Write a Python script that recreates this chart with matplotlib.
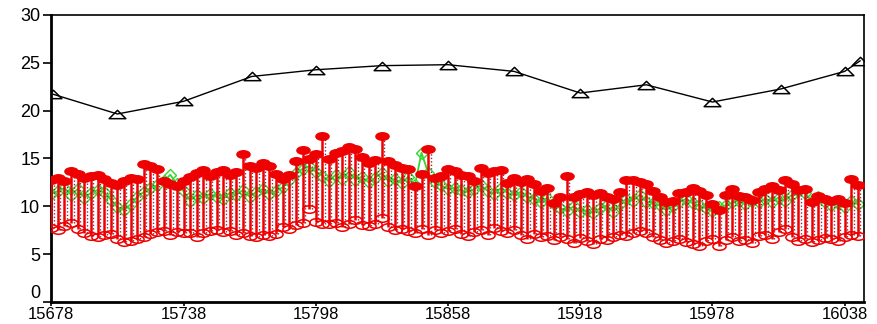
import numpy as np
import matplotlib
matplotlib.use("Agg")
import matplotlib.pyplot as plt
from matplotlib.path import Path
from matplotlib.transforms import Affine2D

# Monthly series (black triangles)
month_day = [15679, 15708, 15738, 15769, 15798, 15828, 15858, 15888,
             15918, 15948, 15978, 16009, 16038, 16045]
month_val = [21.7, 19.65, 20.97, 23.57, 24.27, 24.7, 24.8, 24.1,
             21.84, 22.7, 20.9, 22.26, 24.1, 25.2]

# Sampled series, one record every three days
day = np.arange(15678, 16045, 3)

daily_max = [
    12.8, 13.0, 12.6, 13.7, 13.4, 13.0, 13.2,
    13.3, 12.9, 12.4, 12.2, 12.6, 13.0, 12.9,
    14.4, 14.2, 13.9, 12.6, 12.3, 12.1, 12.6,
    13.1, 13.5, 13.8, 13.2, 13.6, 13.8, 13.3,
    13.6, 15.5, 14.2, 14.0, 14.5, 14.2, 13.4,
    12.9, 13.3, 14.7, 15.9, 14.9, 15.5, 17.3,
    14.9, 15.6, 15.8, 16.2, 16.0, 15.2, 14.5,
    14.8, 17.4, 14.7, 14.3, 14.0, 13.9, 12.1,
    13.4, 16.0, 13.0, 13.2, 13.9, 13.7, 13.3,
    13.2, 12.6, 14.0, 13.5, 13.7, 13.8, 12.4,
    13.0, 12.5, 12.9, 12.3, 11.6, 11.9, 10.3,
    11.0, 13.2, 11.0, 11.3, 11.5, 11.2, 11.4,
    11.0, 10.8, 11.5, 12.8, 12.7, 12.5, 12.3,
    11.6, 11.0, 10.5, 10.6, 11.4, 11.5, 11.9,
    11.6, 11.2, 10.2, 9.6, 11.2, 11.8, 11.1,
    11.0, 10.7, 11.5, 11.8, 12.1, 11.7, 12.8,
    12.3, 11.7, 11.8, 10.4, 11.1, 10.8, 10.6,
    10.8, 10.3, 12.9, 12.2,
]

daily_min = [
    7.7, 7.5, 7.9, 8.3, 7.6, 7.2, 6.9,
    6.8, 7.0, 7.1, 6.6, 6.3, 6.4, 6.6,
    6.8, 7.1, 7.3, 7.4, 7.0, 7.3, 7.2,
    7.2, 6.8, 7.2, 7.4, 7.5, 7.3, 7.4,
    7.0, 7.2, 6.9, 6.8, 7.0, 6.9, 7.1,
    7.8, 7.6, 8.0, 8.3, 9.7, 8.4, 8.2,
    8.1, 8.3, 7.8, 8.1, 8.6, 8.0, 7.9,
    8.2, 8.8, 7.8, 7.5, 7.6, 7.4, 7.2,
    7.6, 7.0, 7.5, 7.2, 7.4, 7.6, 7.1,
    6.9, 7.3, 7.5, 7.0, 7.7, 7.4, 7.2,
    7.5, 7.0, 6.6, 7.1, 6.8, 6.9, 6.5,
    6.8, 6.6, 6.2, 6.7, 6.4, 6.1, 6.6,
    6.5, 6.8, 7.0, 6.9, 7.2, 7.4, 7.2,
    6.8, 6.5, 6.2, 6.4, 6.6, 6.3, 6.1,
    5.9, 6.4, 6.6, 5.9, 6.5, 6.8, 6.4,
    6.5, 6.2, 6.9, 7.0, 6.6, 7.3, 7.6,
    6.8, 6.4, 6.6, 6.3, 6.5, 6.7, 6.6,
    6.4, 6.8, 7.0, 6.9,
]

daily_mean = [
    11.3, 11.6, 11.9, 11.2, 11.8, 10.9, 11.4,
    11.7, 11.5, 10.7, 9.9, 9.6, 10.2, 11.0,
    11.5, 11.9, 12.2, 12.6, 13.3, 12.3, 11.6,
    10.6, 11.2, 10.9, 11.3, 11.0, 10.8, 11.4,
    11.2, 11.7, 11.0, 11.5, 11.8, 11.3, 11.6,
    12.0, 12.8, 13.5, 13.9, 14.2, 13.6, 13.2,
    12.6, 13.3, 12.9, 13.6, 12.8, 13.1, 12.5,
    13.0, 13.5, 12.6, 12.9, 12.4, 13.1, 12.2,
    15.6, 13.5, 12.5, 12.2, 11.8, 11.9, 11.7,
    11.5, 11.8, 12.2, 11.6, 11.3, 11.9, 11.4,
    11.2, 11.5, 11.0, 10.8, 10.4, 10.9, 10.2,
    9.8, 9.5, 10.0, 9.4, 9.6, 9.3, 9.8,
    10.1, 9.4, 10.2, 10.8, 10.6, 11.2, 10.5,
    10.3, 10.1, 9.6, 10.0, 10.4, 10.8, 10.3,
    10.1, 9.8, 9.5, 9.9, 10.1, 10.4, 10.6,
    10.2, 10.6, 10.4, 10.8, 10.5, 10.9, 10.6,
    11.2, 11.6, 11.4, 10.6, 11.0, 10.4, 10.1,
    10.3, 9.9, 10.6, 10.2,
]

x_ticks = [15678, 15738, 15798, 15858, 15918, 15978, 16038]
y_ticks = [0, 5, 10, 15, 20, 25, 30]

# Wide marker shapes
ellipse = Path.unit_circle().transformed(Affine2D().scale(1.75, 1.0))
wide_tri = Path([(-1.0, -0.5), (1.0, -0.5), (0.0, 0.5), (-1.0, -0.5)],
                [Path.MOVETO, Path.LINETO, Path.LINETO, Path.CLOSEPOLY])

plt.rcParams["font.family"] = ["Liberation Sans", "DejaVu Sans"]

fig = plt.figure(figsize=(8.78, 3.24), dpi=100)
ax = fig.add_axes([0.0584, 0.0679, 0.9262, 0.886])

red = "#ee0000"
green = "#33d633"

# Mean line (green)
ax.plot(day, daily_mean, color=green, lw=1.3, marker="D", ms=6,
        mfc="none", mec=green, mew=1.0, zorder=2)

# Range stems: solid min-max bar plus dotted companion
ax.vlines(day, daily_min, daily_max, color=red, lw=1.8, zorder=3)
ax.vlines(np.asarray(day) + 1.1, daily_min, daily_max, color="#8a2a4a",
          lw=1.0, linestyles=(0, (1, 1.5)), zorder=3)

ax.plot(day, daily_min, ls="none", marker=ellipse, ms=9.5, mfc="none",
        mec=red, mew=1.1, zorder=4)
ax.plot(day, daily_max, ls="none", marker=ellipse, ms=9.5, mfc=red,
        mec=red, mew=1.0, zorder=5)

# Monthly line (black)
ax.plot(month_day, month_val, color="black", lw=1.0, marker=wide_tri,
        ms=12, mfc="none", mec="black", mew=1.1, zorder=6)

ax.set_xlim(15678, 16047)
ax.set_ylim(0, 30)
ax.set_xticks(x_ticks)
ax.set_yticks(y_ticks)
ax.tick_params(axis="x", direction="out", length=3, width=1.2,
               labelsize=12, pad=0.5)
ax.tick_params(axis="y", direction="out", length=6, width=1.2,
               labelsize=13, pad=2)
ax.yaxis.get_major_ticks()[0].label1.set_verticalalignment("bottom")

for side in ("left", "bottom"):
    ax.spines[side].set_linewidth(2.0)
for side in ("top", "right"):
    ax.spines[side].set_linewidth(1.2)

fig.savefig("out.png", dpi=100)
